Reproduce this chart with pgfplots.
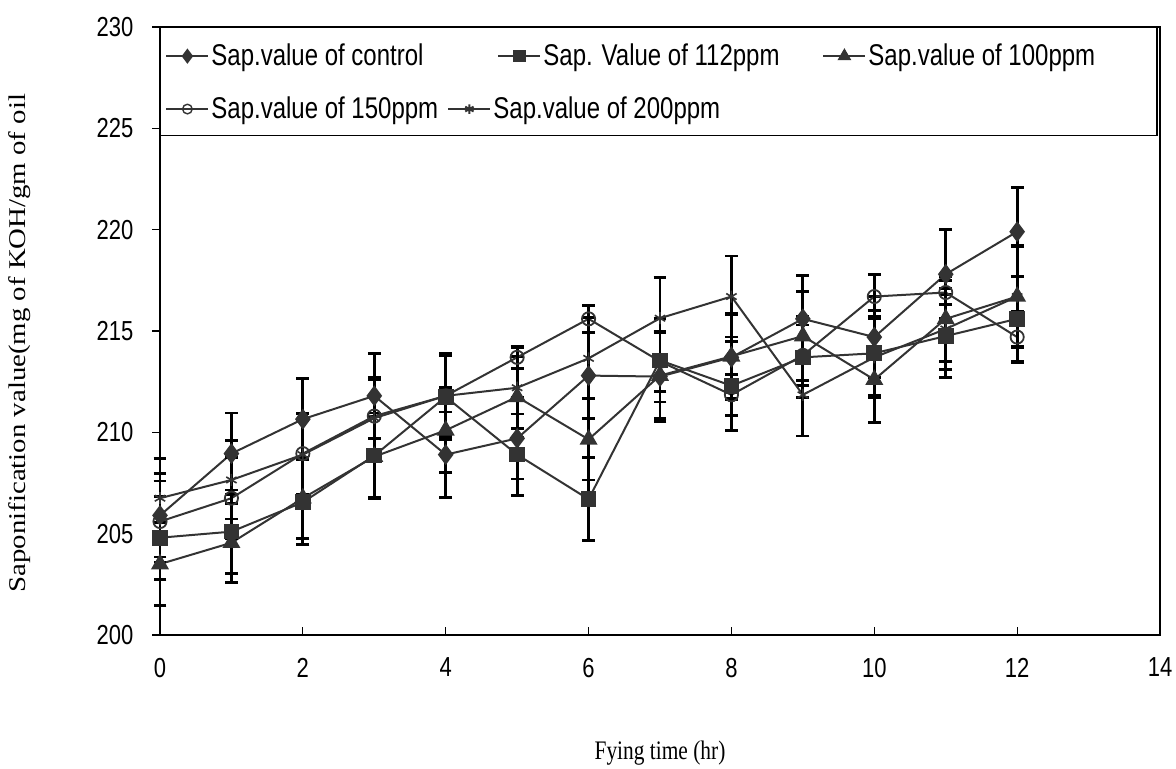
\documentclass[border=0pt]{standalone}
\usepackage{fontspec}
\setmainfont{Liberation Serif}
\newfontfamily\arial{Liberation Sans}
\usepackage{graphicx}
\usepackage{pgfplots}
\usepackage{pgfplotstable}
\pgfplotsset{compat=1.18}
\definecolor{ser}{HTML}{333333}
\newcommand{\vs}[1]{\scalebox{1}[1.25]{#1}}

\pgfplotstableread{
x c ce s se t te o oe a ae
0 205.9 2.05 204.8 2.05 203.5 2.05 205.6 2.0 206.75 1.95
1 208.95 2.0 205.1 2.05 204.55 1.95 206.75 2.0 207.65 1.93
2 210.65 2.0 206.55 2.1 206.75 2.0 208.95 2.0 208.9 2.0
3 211.8 2.1 208.85 2.1 208.8 2.0 210.8 1.8 210.7 2.0
4 208.9 2.1 211.75 2.1 210.1 2.1 211.8 2.1 211.8 2.0
5 209.7 2.0 208.9 2.0 211.75 2.0 213.7 0.55 212.2 2.0
6 212.8 2.1 206.7 2.05 209.65 2.0 215.6 0.65 213.65 2.0
7 212.75 2.2 213.55 2.05 212.8 2.1 213.5 1.5 215.63 2.0
8 213.7 2.1 212.3 2.2 213.75 2.1 211.85 1.0 216.7 2.0
9 215.6 2.15 213.7 2.0 214.75 2.2 213.8 1.5 211.85 2.03
10 214.7 2.0 213.9 2.1 212.6 2.1 216.7 1.1 213.7 2.0
11 217.8 2.2 214.75 2.05 215.6 2.1 216.9 0.6 215.1 2.0
12 219.9 2.2 215.6 2.1 216.7 2.5 214.7 1.25 216.7 2.45
}\data

\pgfplotsset{
  ser/.style={color=ser, line width=1pt,
    error bars/y dir=both, error bars/y explicit,
    error bars/error bar style={black, line width=1.4pt, solid},
    error bars/error mark options={rotate=90, mark size=3.2pt, line width=1.4pt, black, solid}},
  ov/.style={at={(0,0)}, anchor=south west, scale only axis, width=500pt, height=304pt,
    hide axis, xmin=0, xmax=1, ymin=0, ymax=1,
    legend style={draw=none, fill=none, inner sep=0pt, anchor=west,
      font=\arial\fontsize{12}{14}\selectfont,
      nodes={inner sep=1pt}},
    legend image code/.code={\draw[mark repeat=2, mark phase=2, ##1] plot coordinates {(0pt,0pt) (10.5pt,0pt) (21pt,0pt)};}},
  lg/.style={color=ser, line width=1pt, mark options={solid, draw=ser, fill=ser}},
}

\begin{document}
\begin{tikzpicture}
\useasboundingbox (-80pt,-67pt) rectangle (508pt,317.5pt);
\begin{axis}[
  at={(0,0)}, anchor=south west, scale only axis, width=500pt, height=304pt,
  xmin=0, xmax=14, ymin=200, ymax=230,
  xtick={0,2,...,14}, ytick={200,205,...,230},
  xtick pos=bottom, ytick pos=left, tick align=inside,
  major tick length=3.8pt,
  y tick style={xshift=-3.8pt},
  tick style={black, line width=0.6pt},
  axis line style={black, line width=0.6pt},
  /pgf/number format/assume math mode=true,
  ticklabel style={font=\arial\fontsize{11}{13}\selectfont},
  xticklabel={\vs{\pgfmathprintnumber{\tick}}},
  yticklabel={\vs{\pgfmathprintnumber{\tick}}},
  yticklabel style={xshift=-9.8pt},
  xticklabel style={yshift=-8pt},
  xlabel={\vs{Fying time (hr)}},
  ylabel={\scalebox{1.2}[1]{Saponification value(mg of KOH/gm of oil}},
  xlabel style={font=\fontsize{10.7}{13}\selectfont},
  ylabel style={font=\fontsize{12}{14}\selectfont},
  xlabel style={at={(axis description cs:0.5,-0.194)}, anchor=center},
  ylabel style={at={(axis description cs:-0.14,0.48)}, anchor=center},
  clip=false,
]
\draw[black, line width=0.6pt, fill=white] (rel axis cs:0,1) rectangle (rel axis cs:0.997,0.821);
\addplot[ser, mark=diamond*, mark size=4.4pt, mark options={solid, fill=ser, draw=ser}] table[x=x, y=c, y error=ce] {\data};
\addplot[ser, mark=square*, mark size=3.4pt, mark options={solid, fill=ser, draw=ser}] table[x=x, y=s, y error=se] {\data};
\addplot[ser, mark=triangle*, mark size=4.2pt, mark options={solid, fill=ser, draw=ser}] table[x=x, y=t, y error=te] {\data};
\addplot[ser, mark=o, mark size=3.3pt, mark options={solid, fill=none, draw=ser, line width=0.9pt}] table[x=x, y=o, y error=oe] {\data};
\addplot[ser, mark=asterisk, mark size=3pt, mark options={solid, draw=ser, line width=0.8pt}] table[x=x, y=a, y error=ae] {\data};
\end{axis}

\begin{axis}[ov, legend style={at={(rel axis cs:0.005,0.952)}}]
\addlegendimage{lg, mark=diamond*, mark size=3pt}
\addlegendentry{\vs{Sap.value of control}}
\end{axis}
\begin{axis}[ov, legend style={at={(rel axis cs:0.337,0.952)}}]
\addlegendimage{lg, mark=square*, mark size=2.6pt}
\addlegendentry{\vs{Sap. Value of 112ppm}}
\end{axis}
\begin{axis}[ov, legend style={at={(rel axis cs:0.662,0.952)}}]
\addlegendimage{lg, mark=triangle*, mark size=3pt}
\addlegendentry{\vs{Sap.value of 100ppm}}
\end{axis}
\begin{axis}[ov, legend style={at={(rel axis cs:0.005,0.865)}}]
\addlegendimage{lg, mark=o, mark size=2.4pt, mark options={fill=none, line width=0.7pt}}
\addlegendentry{\vs{Sap.value of 150ppm}}
\end{axis}
\begin{axis}[ov, legend style={at={(rel axis cs:0.287,0.865)}}]
\addlegendimage{lg, mark=asterisk, mark size=2.4pt}
\addlegendentry{\vs{Sap.value of 200ppm}}
\end{axis}
\end{tikzpicture}
\end{document}
